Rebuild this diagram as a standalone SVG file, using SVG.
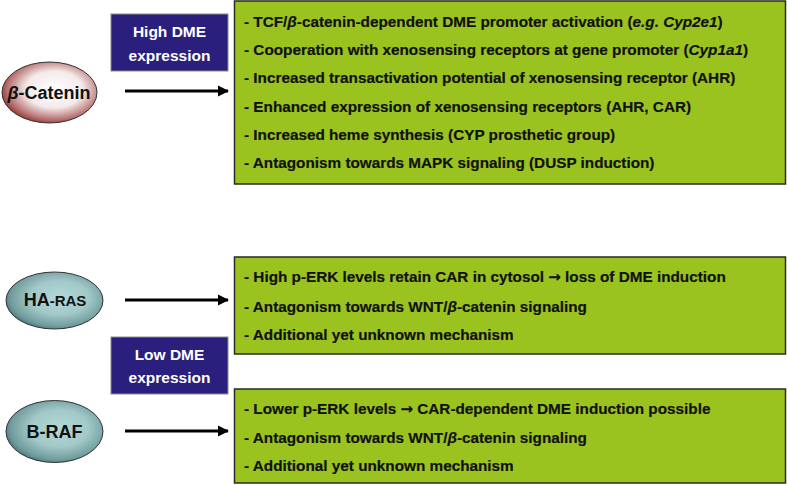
<svg xmlns="http://www.w3.org/2000/svg" width="787" height="485" viewBox="0 0 787 485">
<defs>
<style>
.box{fill:#9bc31f;stroke:#2a2a2a;stroke-width:1.5}
.lbl{fill:#2b1f7e;stroke:#8a8a8a;stroke-width:1}
.t{font-family:"Liberation Sans",Arial,sans-serif;font-weight:bold;font-size:15.3px;fill:#111;stroke:#111;stroke-width:0.2}
.ar{font-family:"DejaVu Sans",sans-serif;font-size:15px}
.w{font-family:"Liberation Sans",Arial,sans-serif;font-weight:bold;font-size:15.5px;fill:#fff;text-anchor:middle}
.n{font-family:"Liberation Sans",Arial,sans-serif;font-weight:bold;font-size:18px;fill:#111;text-anchor:middle}
.ell{stroke:#333;stroke-width:1}
.conn{stroke:#000;stroke-width:3.2;fill:none}
</style>
<radialGradient id="gRed" cx="0.55" cy="0.45" r="0.6">
<stop offset="0" stop-color="#ffffff"/>
<stop offset="0.5" stop-color="#f4eaea"/>
<stop offset="0.82" stop-color="#b87272"/>
<stop offset="1" stop-color="#8a2424"/>
</radialGradient>
<radialGradient id="gTeal" cx="0.55" cy="0.45" r="0.6">
<stop offset="0" stop-color="#b4d8d8"/>
<stop offset="0.5" stop-color="#a2c8c8"/>
<stop offset="0.85" stop-color="#6f9a9b"/>
<stop offset="1" stop-color="#3f6b6d"/>
</radialGradient>
<marker id="ah" viewBox="0 0 10 10" refX="9" refY="5" markerWidth="3.6" markerHeight="4" markerUnits="strokeWidth" orient="auto">
<path d="M0,0 L10,5 L0,10 Z" fill="#000"/>
</marker>
</defs>
<rect width="787" height="485" fill="#fff"/>

<g id="node-bcatenin">
<ellipse class="ell" cx="49.5" cy="92.5" rx="47.5" ry="30.5" fill="url(#gRed)"/>
<text class="n" x="49" y="99"><tspan font-style="italic">β</tspan>-Catenin</text>
</g>
<g id="node-haras">
<ellipse class="ell" cx="54.5" cy="300.5" rx="48.5" ry="28.5" fill="url(#gTeal)"/>
<text class="n" x="55" y="306">HA<tspan font-size="15px">-RAS</tspan></text>
</g>
<g id="node-braf">
<ellipse class="ell" cx="54.5" cy="431.5" rx="48.5" ry="31" fill="url(#gTeal)"/>
<text class="n" x="54.5" y="438">B-RAF</text>
</g>

<g id="label-high">
<rect class="lbl" x="111" y="14" width="117" height="57"/>
<text class="w" x="169.5" y="37">High DME</text>
<text class="w" x="169.5" y="61">expression</text>
</g>
<g id="label-low">
<rect class="lbl" x="111" y="337" width="117" height="57"/>
<text class="w" x="169.5" y="360">Low DME</text>
<text class="w" x="169.5" y="383">expression</text>
</g>

<g id="box-high">
<rect class="box" x="234.5" y="1" width="551" height="183"/>
<text class="t" x="244" y="27">- TCF/<tspan font-style="italic">β</tspan>-catenin-dependent DME promoter activation (<tspan font-style="italic">e.g. Cyp2e1</tspan>)</text>
<text class="t" x="244" y="55">- Cooperation with xenosensing receptors at gene promoter (<tspan font-style="italic">Cyp1a1</tspan>)</text>
<text class="t" x="244" y="83">- Increased transactivation potential of xenosensing receptor (AHR)</text>
<text class="t" x="244" y="112">- Enhanced expression of xenosensing receptors (AHR, CAR)</text>
<text class="t" x="244" y="140">- Increased heme synthesis (CYP prosthetic group)</text>
<text class="t" x="244" y="168">- Antagonism towards MAPK signaling (DUSP induction)</text>
</g>
<g id="box-haras">
<rect class="box" x="234.5" y="257" width="551" height="97"/>
<text class="t" x="244" y="282">- High p-ERK levels retain CAR in cytosol <tspan class="ar">→</tspan> loss of DME induction</text>
<text class="t" x="244" y="312">- Antagonism towards WNT/<tspan font-style="italic">β</tspan>-catenin signaling</text>
<text class="t" x="244" y="340">- Additional yet unknown mechanism</text>
</g>
<g id="box-braf">
<rect class="box" x="234.5" y="389" width="551" height="94"/>
<text class="t" x="244" y="414">- Lower p-ERK levels <tspan class="ar">→</tspan> CAR-dependent DME induction possible</text>
<text class="t" x="244" y="443">- Antagonism towards WNT/<tspan font-style="italic">β</tspan>-catenin signaling</text>
<text class="t" x="244" y="471">- Additional yet unknown mechanism</text>
</g>

<g id="connectors">
<line class="conn" x1="125" y1="91" x2="228" y2="91" marker-end="url(#ah)"/>
<line class="conn" x1="125" y1="300" x2="228" y2="300" marker-end="url(#ah)"/>
<line class="conn" x1="125" y1="431" x2="228" y2="431" marker-end="url(#ah)"/>
</g>
</svg>
